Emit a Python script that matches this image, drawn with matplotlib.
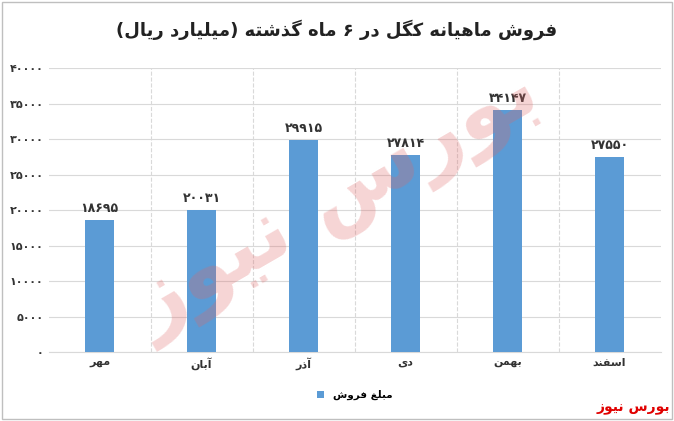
import matplotlib
matplotlib.use('Agg')
import matplotlib.pyplot as plt

# minimal Persian shaping (matplotlib has no Arabic joining / bidi)
FORMS = {
    'ا': ('\uFE8D', '\uFE8E'), 'آ': ('\uFE81', '\uFE82'),
    'د': ('\uFEA9', '\uFEAA'), 'ذ': ('\uFEAB', '\uFEAC'),
    'ر': ('\uFEAD', '\uFEAE'), 'ز': ('\uFEAF', '\uFEB0'),
    'و': ('\uFEED', '\uFEEE'),
    'ب': ('\uFE8F', '\uFE90', '\uFE91', '\uFE92'),
    'ت': ('\uFE95', '\uFE96', '\uFE97', '\uFE98'),
    'س': ('\uFEB1', '\uFEB2', '\uFEB3', '\uFEB4'),
    'ش': ('\uFEB5', '\uFEB6', '\uFEB7', '\uFEB8'),
    'غ': ('\uFECD', '\uFECE', '\uFECF', '\uFED0'),
    'ف': ('\uFED1', '\uFED2', '\uFED3', '\uFED4'),
    'ل': ('\uFEDD', '\uFEDE', '\uFEDF', '\uFEE0'),
    'م': ('\uFEE1', '\uFEE2', '\uFEE3', '\uFEE4'),
    'ن': ('\uFEE5', '\uFEE6', '\uFEE7', '\uFEE8'),
    'ه': ('\uFEE9', '\uFEEA', '\uFEEB', '\uFEEC'),
    'ی': ('\uFBFC', '\uFBFD', '\uFBFE', '\uFBFF'),
    'ک': ('\uFB8E', '\uFB8F', '\uFB90', '\uFB91'),
    'گ': ('\uFB92', '\uFB93', '\uFB94', '\uFB95'),
}
DIGITS = '۰۱۲۳۴۵۶۷۸۹0123456789'
MIRROR = {'(': ')', ')': '('}


def shape(text):
    out = []
    for i, ch in enumerate(text):
        if ch not in FORMS:
            out.append(ch)
            continue
        prev = text[i - 1] if i > 0 else ''
        nxt = text[i + 1] if i + 1 < len(text) else ''
        join_prev = prev in FORMS and len(FORMS[prev]) == 4
        join_next = nxt in FORMS and len(FORMS[ch]) == 4
        f = FORMS[ch]
        if join_prev and join_next:
            out.append(f[3])
        elif join_prev:
            out.append(f[1])
        elif join_next:
            out.append(f[2])
        else:
            out.append(f[0])
    s = ''.join(out)
    # visual order: reverse, keeping digit runs LTR
    runs, cur = [], ''
    for ch in s:
        if cur and ((ch in DIGITS) != (cur[-1] in DIGITS)):
            runs.append(cur)
            cur = ''
        cur += ch
    if cur:
        runs.append(cur)
    res = ''
    for r in reversed(runs):
        if r[0] in DIGITS:
            res += r
        else:
            res += ''.join(MIRROR.get(c, c) for c in reversed(r))
    return res


def fa(n):
    return ''.join('۰۱۲۳۴۵۶۷۸۹'[int(d)] for d in str(n))


months = ['مهر', 'آبان', 'آذر', 'دی', 'بهمن', 'اسفند']
sales = [18695, 20031, 29915, 27814, 34147, 27550]
yticks = list(range(0, 40001, 5000))
title = 'فروش ماهیانه کگل در ۶ ماه گذشته (میلیارد ریال)'
legend_label = 'مبلغ فروش'
brand = 'بورس نیوز'

plt.rcParams['font.family'] = ['DejaVu Sans']
fig = plt.figure(figsize=(6.74, 4.21), dpi=100)
ax = fig.add_axes([0.072, 0.163, 0.908, 0.675])

x = list(range(len(months)))
ax.bar(x, sales, width=0.28, color='#5B9BD5', zorder=3, label=shape(legend_label))
for xi, v in zip(x, sales):
    ax.text(xi, v + 700, fa(v), ha='center', va='bottom', fontsize=9, fontweight='bold', color='#333333')

ax.set_xlim(-0.5, len(months) - 0.5)
ax.set_ylim(0, 40000)
ax.set_yticks(yticks)
ax.set_yticklabels([fa(t) for t in yticks], fontsize=8, fontweight='bold', color='#333333')
ax.set_xticks(x)
ax.set_xticklabels([shape(m) for m in months], fontsize=8, fontweight='bold', color='#333333')
ax.set_xticks([i + 0.5 for i in x[:-1]], minor=True)
ax.tick_params(length=0, which='both')
ax.grid(axis='y', color='#d9d9d9', linewidth=0.8, zorder=0)
ax.grid(axis='x', which='minor', color='#d9d9d9', linewidth=0.8, linestyle='--', zorder=0)
for s in ax.spines.values():
    s.set_visible(False)
ax.spines['bottom'].set_visible(True)
ax.spines['bottom'].set_color('#d9d9d9')

fig.text(0.5, 0.93, shape(title), ha='center', va='center', fontsize=13, fontweight='bold', color='#222222')
ax.legend(loc='upper center', bbox_to_anchor=(0.5, -0.1), frameon=False,
          handlelength=0.7, handleheight=0.7, prop={'weight': 'bold', 'size': 7.5})

# watermark
fig.text(0.5, 0.52, shape(brand), ha='center', va='center', fontsize=62, fontweight='bold',
         color='#e06666', alpha=0.28, rotation=30, zorder=5)
fig.text(0.995, 0.03, shape(brand), ha='right', va='center', fontsize=10, fontweight='bold', color='#e00000')

fig.patches.append(plt.Rectangle((0.003, 0.005), 0.994, 0.99, transform=fig.transFigure,
                                 fill=False, edgecolor='#bfbfbf', linewidth=1))
fig.savefig('out.png', dpi=100)
